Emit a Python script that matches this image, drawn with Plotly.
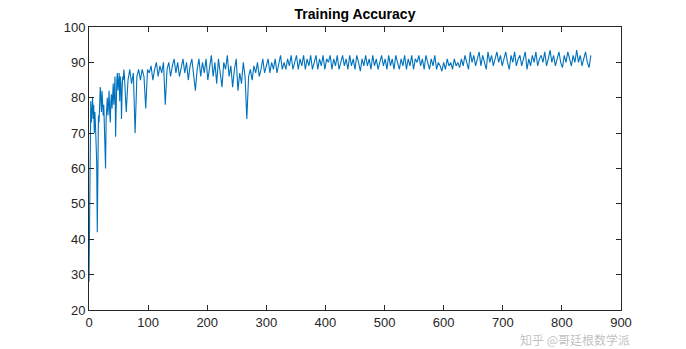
import plotly.graph_objects as go

# Iteration index (dense at the start, then every 3rd iteration)
iters = list(range(0, 60)) + list(range(60, 852, 3))

accuracy = [
    # 0-59 (every iteration)
    28, 52, 72, 79, 73, 77, 80, 74, 78, 70,
    76, 72, 65, 62, 42, 68, 75, 73, 78, 83,
    80, 76, 82, 79, 75, 78, 72, 68, 60, 74,
    77, 80, 75, 78, 82, 76, 73, 79, 81, 77,
    80, 84, 78, 83, 86, 69, 80, 85, 87, 82,
    84, 87, 79, 86, 84, 74, 82, 86, 85, 88,
    # 60-849 (every 3rd iteration)
    86, 76, 85, 88, 84, 87, 70, 86, 88, 85,
    88, 86, 77, 88, 87, 89, 85, 88, 90, 86,
    89, 87, 90, 78, 88, 90, 86, 89, 91, 87,
    90, 86, 89, 91, 87, 90, 85, 89, 91, 86,
    82, 88, 91, 86, 90, 87, 91, 85, 89, 92,
    86, 90, 84, 91, 87, 83, 90, 88, 92, 86,
    89, 83, 88, 91, 82, 87, 84, 90, 86, 74,
    86, 88, 85, 89, 87, 90, 86, 88, 91, 87,
    89, 91, 87, 90, 88, 91, 87, 90, 92, 88,
    90, 88, 91, 89, 92, 88, 90, 92, 88, 91,
    89, 92, 88, 91, 89, 92, 88, 90, 92, 88,
    91, 89, 92, 88, 91, 90, 92, 88, 91, 89,
    92, 88, 90, 92, 89, 91, 88, 92, 89, 91,
    88, 92, 90, 87.5, 91, 89, 92, 89, 91, 88,
    92, 89, 91, 88, 90, 92, 89, 91, 88, 92,
    89, 91, 88, 92, 90, 88, 91, 89, 92, 88,
    91, 89, 92, 88, 91, 90, 92, 89, 91, 88,
    92, 90, 88, 91, 89, 92, 88, 90, 89, 87.5,
    90, 88, 91, 89, 90, 88, 91, 89, 90, 88.5,
    91, 89, 92, 90, 88, 93, 90, 92, 89, 91,
    93, 89, 92, 90, 88, 93, 90, 92, 89, 91,
    93, 90, 92, 89, 91, 93, 90, 88, 92, 90,
    93, 89, 91, 92, 89, 91, 93, 88, 91, 89,
    92, 90, 93, 89, 91, 92, 90, 93, 89, 91,
    93.5, 90, 92, 89, 91, 93, 90, 88.5, 92, 90,
    93, 91, 89, 92, 90, 93.5, 90, 92, 89, 91,
    93, 90, 88.5, 92,
]

title_text = "Training Accuracy"
watermark = "知乎 @哥廷根数学派"
x_ticks = list(range(0, 901, 100))
y_ticks = list(range(20, 101, 10))

axis_color = "#262626"
font_family = "Liberation Sans, Arial, sans-serif"

fig = go.Figure()
fig.add_trace(go.Scatter(
    x=iters, y=accuracy, mode="lines",
    line=dict(color="#0072BD", width=1.1),
    showlegend=False, hoverinfo="skip",
))

axis_common = dict(
    showgrid=False, zeroline=False,
    showline=True, linecolor=axis_color, linewidth=1, mirror="ticks",
    ticks="inside", ticklen=5, tickcolor=axis_color, tickwidth=1,
    tickfont=dict(family=font_family, size=13, color=axis_color),
)

fig.update_layout(
    width=686, height=349,
    margin=dict(l=89, r=65, t=27, b=39),
    paper_bgcolor="white", plot_bgcolor="white",
    title=dict(text="<b>" + title_text + "</b>", x=(89 + 621) / 2 / 686, xanchor="center",
               y=1 - 14 / 349, yanchor="middle",
               font=dict(family=font_family, size=14, color="black")),
    xaxis=dict(range=[0, 900], tickvals=x_ticks, **axis_common),
    yaxis=dict(range=[20, 100], tickvals=y_ticks, **axis_common),
    annotations=[dict(
        text=watermark, xref="paper", yref="paper",
        x=(575 - 89) / 532, y=-(339 - 310) / 283,
        xanchor="center", yanchor="middle", showarrow=False,
        font=dict(family="Noto Sans CJK SC", size=12, color="rgba(150,150,150,0.6)"),
    )],
)

fig.write_html("out.html")
